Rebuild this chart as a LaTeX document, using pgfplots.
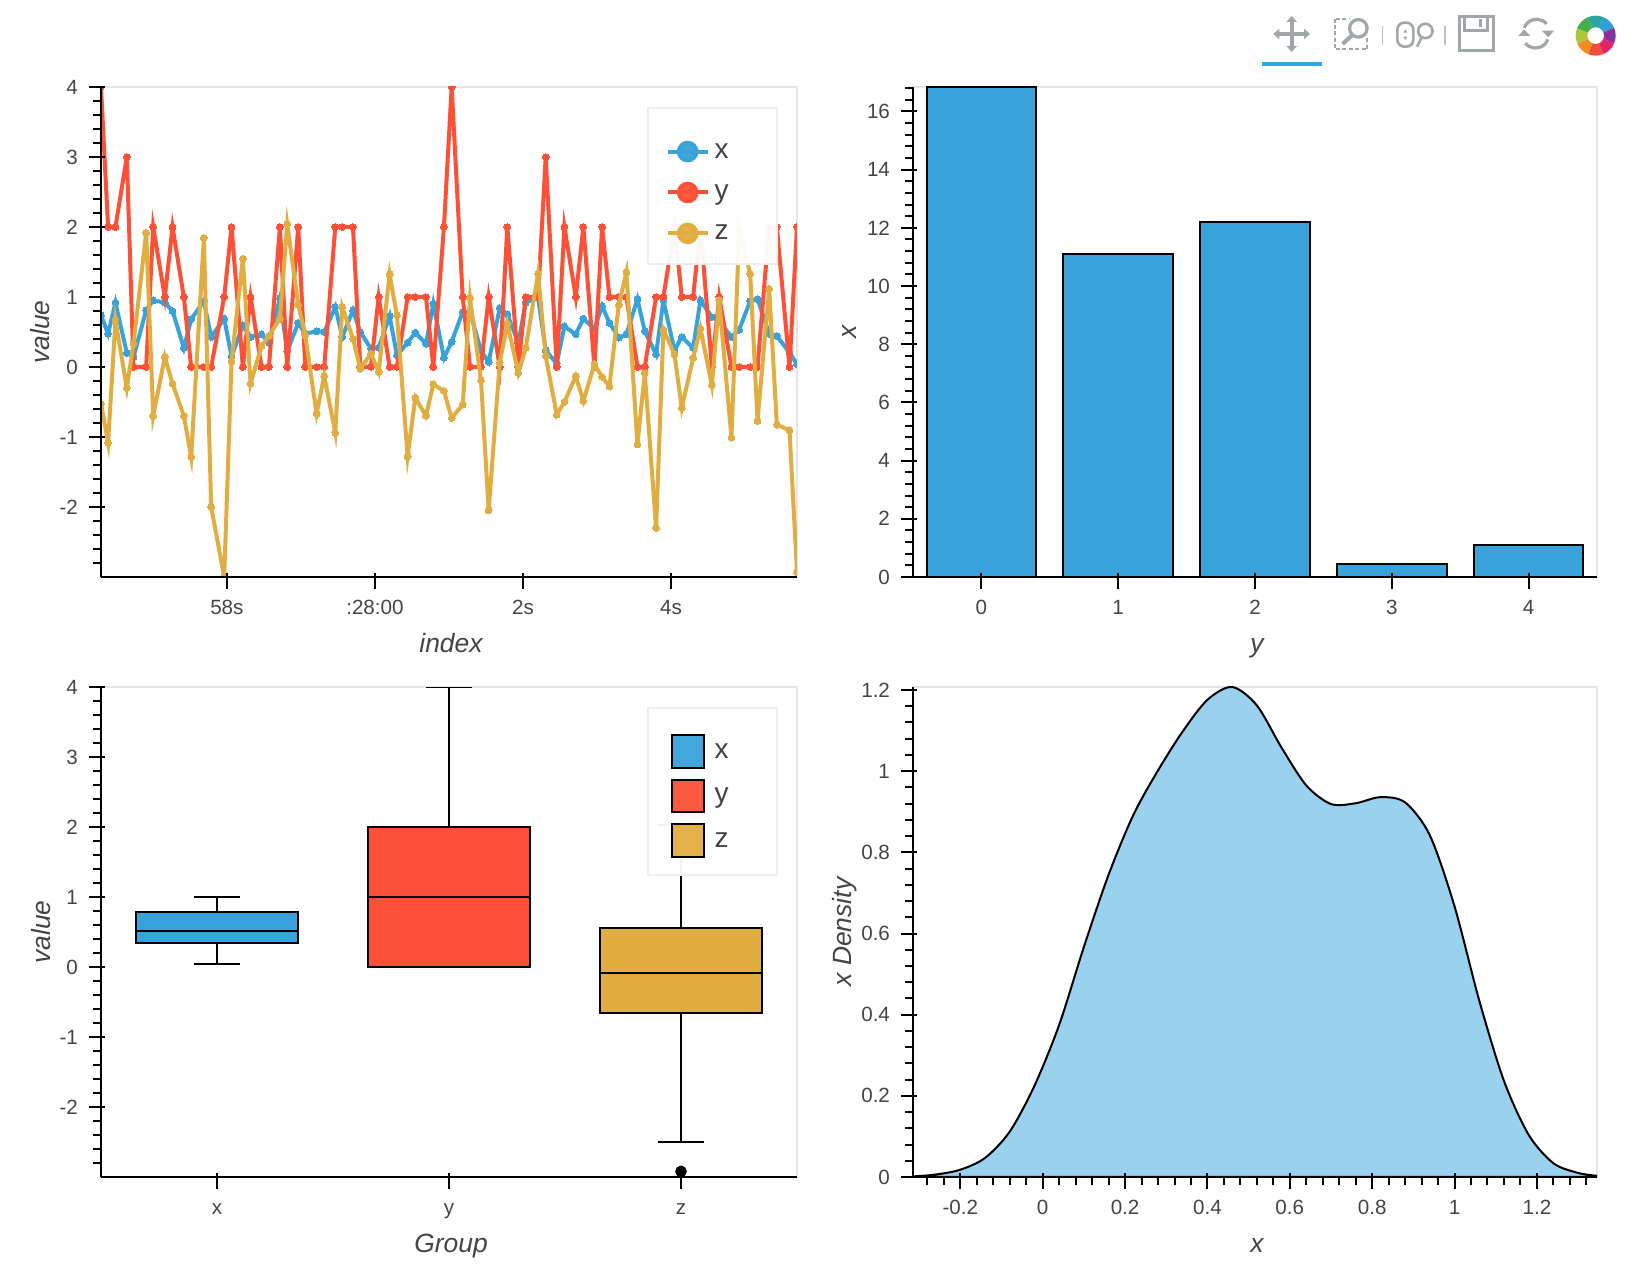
\documentclass[border=0pt]{standalone}
\usepackage{fontspec}
\setmainfont{Liberation Sans}
\usepackage{pgfplots}
\usepackage{pgfplotstable}
\pgfplotsset{compat=1.18}
\usepgfplotslibrary{statistics}
\definecolor{cA}{HTML}{38A3DA}
\definecolor{cB}{HTML}{FC5037}
\definecolor{cC}{HTML}{E2AD40}
\definecolor{cD}{HTML}{9AD1EE}
\definecolor{lab}{HTML}{444444}
\definecolor{frame}{HTML}{E5E5E5}
\definecolor{lfr}{HTML}{EEEEEE}
\definecolor{tool}{HTML}{A1A6A9}
\newcommand\lgt[2][0.5pt]{\makebox[20.5pt][l]{\hspace{#1}#2}\rule[-8.05pt]{0pt}{23pt}}
\pgfplotsset{
 ylab/.style={every axis y label/.style={at={(axis description cs:0,0.5)},xshift=-#1,rotate=90,anchor=base,font=\fontsize{13.2}{15}\selectfont\itshape,text=lab}},
 bk/.style={scale only axis,axis lines*=left,axis line style={-,line width=1pt,black},
  enlargelimits=false,axis on top,tick align=outside,clip marker paths=true,
  major tick length=8pt,minor tick length=4pt,
  tick style={black,line width=1pt},
  major x tick style={yshift=2pt},major y tick style={xshift=2pt},
  tick label style={font=\fontsize{10.3}{12}\selectfont,text=lab},
  xticklabel style={anchor=base,yshift=-11pt},
  every axis x label/.style={at={(axis description cs:0.5,0)},xshift=1pt,yshift=-37.9pt,anchor=base,font=\fontsize{13.2}{15}\selectfont\itshape,text=lab},
  ylab=25.5pt,
  axis background/.style={draw=frame,line width=1pt},
  width=348pt,height=245pt},
 lgd/.style={legend cell align=left,legend style={at={(axis description cs:0.784,0.96)},anchor=north west,
  cells={anchor=base west},
  fill=white,fill opacity=0.95,text opacity=1,draw=lfr,line width=1pt,inner xsep=#1,inner ysep=8.35pt,row sep=0pt,
  font=\fontsize{14}{15}\selectfont,text=lab}},
 ykey/.style={legend image code/.code={\draw[#1,line width=2pt] (0pt,3.3pt)--(20pt,3.3pt);\fill[#1] (10pt,3.3pt) circle (4.4pt);}},
 bkey/.style={legend image code/.code={\draw[black,line width=1pt,fill=#1] (0pt,-4.85pt) rectangle (16.3pt,11.45pt);}},
 ser/.style={#1,line width=2pt,mark=*,mark size=1.7pt,mark options={fill=#1,draw=#1,line width=0pt},ykey=#1},
}
\pgfplotstableread{
t x y z
56.300 0.738 4 -0.524
56.396 0.476 2 -1.081
56.495 0.919 2 0.667
56.649 0.200 3 -0.300
56.739 0.143 0 0.333
56.910 0.810 0 1.919
57.005 0.952 2 -0.700
57.162 0.919 1 0.143
57.266 0.800 2 -0.238
57.419 0.271 1 -0.700
57.518 0.681 0 -1.286
57.689 0.943 0 1.843
57.788 0.429 0 -2.000
57.964 0.690 1 -3.000
58.063 0.152 2 0.081
58.216 0.595 0 1.548
58.320 0.429 1 -0.238
58.468 0.467 0 0.300
58.568 0.348 0 0.443
58.716 0.981 2 0.690
58.815 0.224 0 2.038
58.964 0.629 2 0.890
59.059 0.476 0 0.452
59.212 0.510 0 -0.667
59.315 0.500 0 -0.129
59.464 0.857 2 -0.938
59.559 0.429 2 0.857
59.703 0.810 2 0.405
59.802 0.500 0 -0.024
59.946 0.262 0 0.190
60.050 0.276 1 -0.071
60.198 0.729 0 1.324
60.297 0.167 0 0.738
60.441 0.348 1 -1.276
60.545 0.490 1 -0.438
60.689 0.333 1 -0.700
60.788 0.905 0 -0.248
60.932 0.129 2 -0.343
61.036 0.360 4 -0.729
61.185 0.786 1 -0.538
61.284 0.786 0 0.986
61.432 0.229 0 -0.190
61.536 0.071 1 -2.048
61.685 0.843 0 0.062
61.788 0.752 2 0.619
61.937 0.343 0 -0.086
62.036 0.919 1 0.271
62.203 0.990 1 1.333
62.306 0.238 3 0.157
62.455 0.048 0 -0.681
62.559 0.581 2 -0.500
62.712 0.467 1 -0.133
62.815 0.690 2 -0.486
62.964 0.548 0 0.038
63.068 0.871 2 -0.143
63.167 0.629 1 -0.276
63.293 0.419 1 0.890
63.396 0.467 1 1.352
63.545 0.971 0 -1.105
63.644 0.510 0 -0.086
63.797 0.181 1 -2.300
63.896 0.952 1 0.533
64.045 0.238 2 0.181
64.144 0.429 1 -0.586
64.297 0.271 1 0.129
64.396 0.952 2 0.548
64.550 0.714 0 -0.262
64.649 0.652 1 0.952
64.815 0.429 0 -1.010
64.919 0.533 0 1.950
65.068 0.943 0 1.333
65.167 0.971 0 -0.771
65.324 0.476 2 1.119
65.428 0.443 2 -0.824
65.599 0.205 0 -0.905
65.700 0.038 2 -2.930
}\dataseries
\pgfplotstableread{
c h
0 16.84
1 11.11
2 12.19
3 0.44
4 1.10
}\databars
\pgfplotstableread{
x d
-0.315 0.0015
-0.26 0.006
-0.20 0.018
-0.14 0.047
-0.08 0.112
-0.02 0.225
0.04 0.375
0.10 0.567
0.16 0.745
0.22 0.892
0.28 1.002
0.34 1.098
0.40 1.176
0.46 1.2075
0.52 1.162
0.58 1.058
0.64 0.965
0.70 0.919
0.76 0.921
0.82 0.936
0.88 0.923
0.94 0.842
1.00 0.667
1.06 0.435
1.12 0.237
1.18 0.104
1.24 0.034
1.30 0.010
1.346 0.003
}\datakde
\begin{document}
\begin{tikzpicture}
\useasboundingbox (0,0) rectangle (814pt,639pt);
% top left
\begin{axis}[bk,at={(50.5pt,350.5pt)},anchor=south west,
 xmin=56.3,xmax=65.7,ymin=-3,ymax=4,
 xtick={58,60,62,64},xticklabels={58s,:28:00,2s,4s},
 ytick={-2,-1,0,1,2,3,4},yticklabels={-2,-1,0,1,2,3,4},
 minor ytick={-2.8,-2.6,...,3.9},
 xlabel={index},ylabel={value},lgd=9pt]
\addplot[ser=cA] table[x=t,y=x]{\dataseries};\addlegendentry{\lgt{x}}
\addplot[ser=cB] table[x=t,y=y]{\dataseries};\addlegendentry{\lgt{y}}
\addplot[ser=cC] table[x=t,y=z]{\dataseries};\addlegendentry{\lgt{z}}
\end{axis}
% top right
\begin{axis}[bk,at={(456.5pt,350.5pt)},anchor=south west,width=342pt,
 xmin=-0.5,xmax=4.5,ymin=0,ymax=16.84,
 xtick={0,1,2,3,4},xticklabels={0,1,2,3,4},
 ytick={0,2,...,16},yticklabels={0,2,4,6,8,10,12,14,16},
 minor ytick={0.4,0.8,...,16.8},
 xlabel={y},ylabel={x},ylab=28.5pt]
\addplot[ybar,bar width=0.8,fill=cA,draw=black,line width=1pt] table[x=c,y=h]{\databars};
\end{axis}
% bottom left
\begin{axis}[bk,at={(50.5pt,50.5pt)},anchor=south west,
 xmin=-0.5,xmax=2.5,ymin=-3,ymax=4,
 boxplot/draw direction=y,
 xtick={0,1,2},xticklabels={x,y,z},
 ytick={-2,-1,0,1,2,3,4},yticklabels={-2,-1,0,1,2,3,4},
 minor ytick={-2.8,-2.6,...,3.9},
 xlabel={Group},ylabel={value},lgd=11.5pt]
\addplot[bkey=cA,fill=cA,draw=black,line width=1pt,boxplot prepared={draw position=0,lower whisker=0.04,lower quartile=0.34,median=0.514,upper quartile=0.79,upper whisker=1,box extend=0.7,whisker extend=0.2}] coordinates {};\addlegendentry{\lgt[2.7pt]{x}}
\addplot[bkey=cB,fill=cB,draw=black,line width=1pt,boxplot prepared={draw position=1,lower whisker=0,lower quartile=0,median=1,upper quartile=2,upper whisker=4,box extend=0.7,whisker extend=0.2}] coordinates {};\addlegendentry{\lgt[2.7pt]{y}}
\addplot[bkey=cC,fill=cC,draw=black,line width=1pt,mark=*,mark size=2.4pt,mark options={fill=black,draw=black},boxplot prepared={draw position=2,lower whisker=-2.497,lower quartile=-0.661,median=-0.082,upper quartile=0.557,upper whisker=2.03,box extend=0.7,whisker extend=0.2}] coordinates {(0,-2.92)};\addlegendentry{\lgt[2.7pt]{z}}
\end{axis}
% bottom right
\begin{axis}[bk,at={(456.5pt,50.5pt)},anchor=south west,width=342pt,
 xmin=-0.315,xmax=1.346,ymin=0,ymax=1.2075,
 xtick={-0.2,0,0.2,0.4,0.6,0.8,1,1.2},xticklabels={-0.2,0,0.2,0.4,0.6,0.8,1,1.2},
 ytick={0,0.2,0.4,0.6,0.8,1,1.2},yticklabels={0,0.2,0.4,0.6,0.8,1,1.2},
 minor xtick={-0.28,-0.24,...,1.33},minor ytick={0.04,0.08,...,1.2},
 xlabel={x},ylabel={x Density},ylab=31pt]
\addplot[smooth,fill=cD,draw=black,line width=1pt] table[x=x,y=d]{\datakde} \closedcycle;
\end{axis}
% toolbar
\begin{scope}[shift={(620pt,639pt)},x=0.16667pt,y=-0.16667pt]
 \definecolor{ubar}{HTML}{26AAE1}
 \fill[ubar] (66,186) rectangle (246,198);
 % move
 \draw[tool,line width=2pt] (155,62)--(155,142) (114,102)--(196,102);
 \fill[tool] (155,48)--(171,66)--(139,66)--cycle (155,156)--(171,138)--(139,138)--cycle
  (100,102)--(118,86)--(118,118)--cycle (210,102)--(192,86)--(192,118)--cycle;
 % box zoom
 \draw[tool,line width=1pt,dash pattern=on 2pt off 1.2pt] (284,56) rectangle (382,148);
 \draw[white,line width=3.5pt] (355,85) circle (4.6pt);
 \draw[tool,line width=1.6pt,fill=white] (355,85) circle (4.4pt);
 \draw[tool,line width=2pt] (336,106)--(308,132);
 % separators
 \draw[tool!70,line width=0.8pt] (428,78)--(428,135) (615,78)--(615,135);
 % wheel zoom
 \draw[tool,line width=1.3pt,rounded corners=3.5pt] (472,68) rectangle (520,140);
 \fill[tool] (496,88)--(502,98)--(490,98)--cycle (496,120)--(502,110)--(490,110)--cycle;
 \draw[tool,line width=1.3pt] (556,93) circle (3.6pt) (545,112)--(531,140);
 % save
 \draw[tool,line width=1.5pt] (657,50) rectangle (760,153);
 \draw[tool,line width=1.2pt] (674,50)--(674,92)--(743,92)--(743,50);
 \fill[tool] (717,58) rectangle (727,80);
 % reset
 \draw[tool,line width=1.6pt] (920,72) arc[start angle=40,end angle=160,radius=6.6pt];
 \draw[tool,line width=1.6pt] (856,130) arc[start angle=220,end angle=340,radius=6.6pt];
 \fill[tool] (905,92)--(942,92)--(925,112)--cycle (835,108)--(872,108)--(852,88)--cycle;
 % logo
 \begin{scope}[shift={(1067,107)}]
  \foreach \a/\c in {68/2BA5A0,23/2E9FD8,-22/8A2F9C,-67/E0246B,-112/EE4F3A,-157/F58A1F,158/A9C83C,113/45B04A}{
   \definecolor{tmp}{HTML}{\c}
   \fill[tmp] (\a:10pt) arc[start angle=\a,end angle=\a+45,radius=10pt] -- (\a+45:4.2pt) arc[start angle=\a+45,end angle=\a,radius=4.2pt] -- cycle;
  }
 \end{scope}
\end{scope}
\end{tikzpicture}
\end{document}
